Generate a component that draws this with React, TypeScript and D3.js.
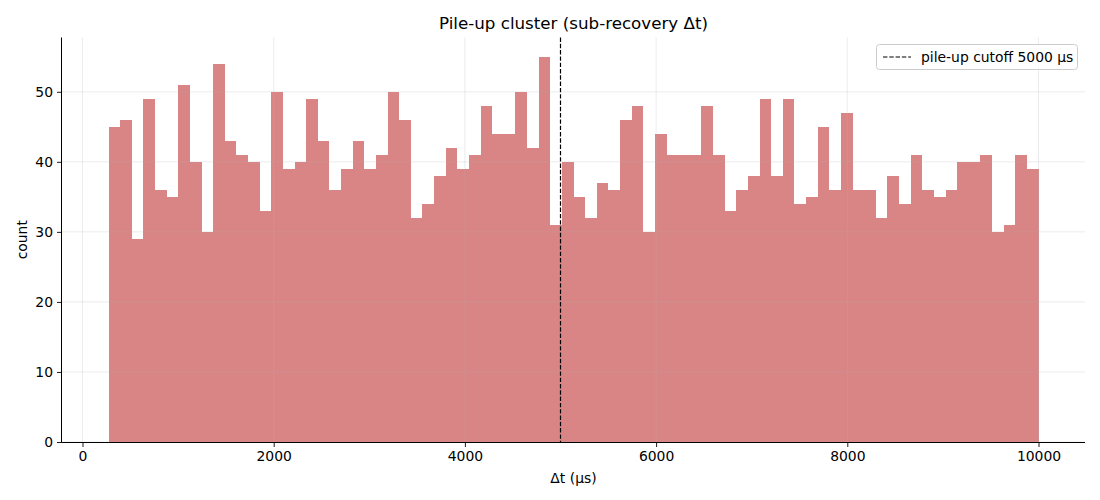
import { useEffect, useRef } from "react";
import * as d3 from "d3";

// histogram counts, 80 equal bins between binLow and binHigh (μs)
const counts: number[] = [
  45, 46, 29, 49, 36, 35, 51, 40, 30, 54,
  43, 41, 40, 33, 50, 39, 40, 49, 43, 36,
  39, 43, 39, 41, 50, 46, 32, 34, 38, 42,
  39, 41, 48, 44, 44, 50, 42, 55, 31, 40,
  35, 32, 37, 36, 46, 48, 30, 44, 41, 41,
  41, 48, 41, 33, 36, 38, 49, 38, 49, 34,
  35, 45, 36, 47, 36, 36, 32, 38, 34, 41,
  36, 35, 36, 40, 40, 41, 30, 31, 41, 39,
];
const binLow = 272;
const binHigh = 10000;
const cutoff = 5000;
const xTicks = [0, 2000, 4000, 6000, 8000, 10000];
const yTicks = [0, 10, 20, 30, 40, 50];

const W = 1100;
const H = 500;
const M = { top: 37.5, right: 15, bottom: 58, left: 62 };
const FONT = "'DejaVu Sans', sans-serif";
const FS = "13.9px";

export default function App() {
  const svgRef = useRef<SVGSVGElement>(null);

  useEffect(() => {
    if (!svgRef.current) return;
    const svg = d3.select(svgRef.current);
    svg.selectAll("*").remove();

    const n = counts.length;
    const step = (binHigh - binLow) / n;
    const bins = counts.map((c, i) => ({ x0: binLow + i * step, x1: binLow + (i + 1) * step, c }));

    const pad = (binHigh - binLow) * 0.05;
    const maxC = d3.max(counts) ?? 1;
    const x = d3.scaleLinear().domain([binLow - pad, binHigh + pad]).range([M.left, W - M.right]);
    const y = d3.scaleLinear().domain([0, maxC * 1.05]).range([H - M.bottom, M.top]);

    // bars
    svg.append("g")
      .selectAll("rect")
      .data(bins)
      .join("rect")
      .attr("x", d => x(d.x0))
      .attr("width", d => x(d.x1) - x(d.x0))
      .attr("y", d => y(d.c))
      .attr("height", d => y(0) - y(d.c))
      .attr("fill", "indianred")
      .attr("fill-opacity", 0.75)
      .attr("shape-rendering", "crispEdges");

    // grid (on top, faint)
    const grid = svg.append("g").attr("stroke", "#b0b0b0").attr("stroke-opacity", 0.3).attr("stroke-width", 0.8);
    xTicks.forEach(t => {
      grid.append("line").attr("x1", x(t)).attr("x2", x(t)).attr("y1", M.top).attr("y2", H - M.bottom);
    });
    yTicks.forEach(t => {
      grid.append("line").attr("x1", M.left).attr("x2", W - M.right).attr("y1", y(t)).attr("y2", y(t));
    });

    // cutoff line
    svg.append("line")
      .attr("x1", x(cutoff)).attr("x2", x(cutoff))
      .attr("y1", M.top).attr("y2", H - M.bottom)
      .attr("stroke", "black")
      .attr("stroke-width", 1.2)
      .attr("stroke-dasharray", "4.4,1.9");

    // axes
    const xAxis = svg.append("g")
      .attr("transform", `translate(0,${H - M.bottom})`)
      .call(d3.axisBottom(x).tickValues(xTicks).tickSize(5).tickPadding(4).tickFormat(d3.format("d")));
    const yAxis = svg.append("g")
      .attr("transform", `translate(${M.left},0)`)
      .call(d3.axisLeft(y).tickValues(yTicks).tickSize(5).tickPadding(4).tickFormat(d3.format("d")));
    [xAxis, yAxis].forEach(a => {
      a.selectAll("text").style("font-family", FONT).style("font-size", FS).attr("fill", "#000");
      a.selectAll("line").attr("stroke", "#000").attr("stroke-width", 0.9);
      a.select(".domain").attr("stroke", "#000").attr("stroke-width", 1);
    });
    xAxis.select(".domain").attr("d", `M${M.left},0.5H${W - M.right}`);
    yAxis.select(".domain").attr("d", `M-0.5,${M.top}V${H - M.bottom}`);

    // labels
    svg.append("text")
      .attr("x", (M.left + W - M.right) / 2).attr("y", 29)
      .attr("text-anchor", "middle")
      .style("font-family", FONT).style("font-size", "16.7px")
      .text("Pile-up cluster (sub-recovery Δt)");
    svg.append("text")
      .attr("x", (M.left + W - M.right) / 2).attr("y", 483)
      .attr("text-anchor", "middle")
      .style("font-family", FONT).style("font-size", FS)
      .text("Δt (μs)");
    svg.append("text")
      .attr("transform", `translate(27,${(M.top + H - M.bottom) / 2}) rotate(-90)`)
      .attr("text-anchor", "middle")
      .style("font-family", FONT).style("font-size", FS)
      .text("count");

    // legend
    const lg = svg.append("g");
    lg.append("rect")
      .attr("x", 876.5).attr("y", 44.5).attr("width", 201).attr("height", 25)
      .attr("rx", 3)
      .attr("fill", "white").attr("fill-opacity", 0.8)
      .attr("stroke", "#cccccc");
    lg.append("line")
      .attr("x1", 883).attr("x2", 911).attr("y1", 57).attr("y2", 57)
      .attr("stroke", "black").attr("stroke-width", 1.2)
      .attr("stroke-dasharray", "4.4,1.9");
    lg.append("text")
      .attr("x", 921).attr("y", 61.5)
      .style("font-family", FONT).style("font-size", FS)
      .text(`pile-up cutoff ${cutoff} μs`);
  }, []);

  return (
    <div style={{ position: "absolute", left: 0, top: 0 }}>
      <svg ref={svgRef} width={W} height={H} viewBox={`0 0 ${W} ${H}`} style={{ display: "block", background: "white" }} />
    </div>
  );
}
